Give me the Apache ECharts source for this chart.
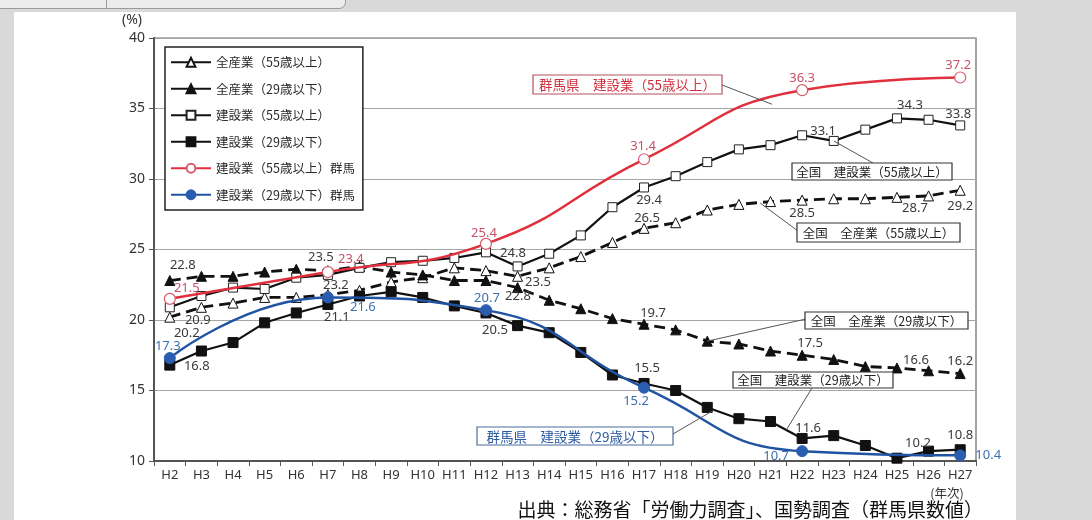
<!DOCTYPE html>
<html><head><meta charset="utf-8">
<script src="https://cdn.jsdelivr.net/npm/echarts@6/dist/echarts.min.js"></script>
<style>
html,body{margin:0;padding:0;background:#d9d9d9;width:1092px;height:520px;overflow:hidden;}
#panel{position:absolute;left:14px;top:12px;width:1002px;height:520px;background:#fff;}
#tab{position:absolute;left:-6px;top:-12px;width:350px;height:19px;background:#ececec;border:1.5px solid #9a9a9a;border-radius:7px;}
#tabdiv{position:absolute;left:106px;top:0;width:1px;height:8px;background:#9a9a9a;}
#chart{position:absolute;left:0;top:0;width:1092px;height:520px;}
</style></head>
<body>
<div id="panel"></div>
<div id="tab"></div><div id="tabdiv"></div>
<div id="chart"></div>
<script>
// ---------- data ----------
const categories = ['H2','H3','H4','H5','H6','H7','H8','H9','H10','H11','H12','H13','H14','H15','H16','H17','H18','H19','H20','H21','H22','H23','H24','H25','H26','H27'];
const allInd55  = [20.2,20.9,21.2,21.6,21.6,21.8,22.1,22.7,23.0,23.7,23.5,23.1,23.7,24.5,25.5,26.5,26.9,27.8,28.2,28.4,28.5,28.6,28.6,28.7,28.8,29.2];
const allInd29  = [22.8,23.1,23.1,23.4,23.6,23.5,23.8,23.4,23.2,22.8,22.8,22.3,21.4,20.8,20.1,19.7,19.3,18.5,18.3,17.8,17.5,17.2,16.7,16.6,16.4,16.2];
const const55   = [20.9,21.7,22.3,22.2,23.0,23.2,23.7,24.1,24.2,24.4,24.8,23.8,24.7,26.0,28.0,29.4,30.2,31.2,32.1,32.4,33.1,32.7,33.5,34.3,34.2,33.8];
const const29   = [16.8,17.8,18.4,19.8,20.5,21.1,21.7,22.0,21.6,21.0,20.5,19.6,19.1,17.7,16.1,15.5,15.0,13.8,13.0,12.8,11.6,11.8,11.1,10.2,10.7,10.8];
const gunmaYears = ['H2','H7','H12','H17','H22','H27'];
const gunma55   = [21.5,23.4,25.4,31.4,36.3,37.2];
const gunma29   = [17.3,21.6,20.7,15.2,10.7,10.4];
const yTicks = [10,15,20,25,30,35,40];
const seriesNames = ['全産業（55歳以上）','全産業（29歳以下）','建設業（55歳以上）','建設業（29歳以下）','建設業（55歳以上）群馬','建設業（29歳以下）群馬'];

// ---------- label placement (style) ----------
const numFont = 'Noto Sans';
const cjk = '"Noto Sans CJK JP"';
const lblA = {0:[17,16],10:[52,12],15:[3,-10],20:[0,13],23:[18,11],25:[0,16]};
const lblB = {0:[13,-15],5:[-7,-13],10:[32,16],15:[9,-11],20:[8,-12],23:[19,-8],25:[0,-12]};
const lblC = {0:[28,13],5:[8,10],10:[27,1],15:[5,13],20:[21,-4],23:[13,-13],25:[-2,-11]};
const lblD = {0:[27,1],5:[9,13],10:[9,17],15:[3,-15],20:[6,-10],23:[21,-15],25:[0,-14]};
const lblE = [[17,-11],[23,-13],[-2,-11],[-1,-13],[0,-12],[-2,-12]];
const lblF = [[-2,-12],[35,10],[1,-12],[-8,14],[-26,5],[28,0]];

function fmt(p){ const v = Array.isArray(p.value)? p.value[1] : p.value; return Number(v).toFixed(1); }
function mkData(vals, map, color){
  return vals.map((v,i)=> map[i] ? {value:v, label:{show:true, position:'inside', offset:map[i], color:color, fontSize:13, fontFamily:numFont, formatter:fmt}} : v);
}
function mkGunma(vals, offs, color){
  return vals.map((v,i)=>({value:[gunmaYears[i], v], label:{show:true, position:'inside', offset:offs[i], color:color, fontSize:13, fontFamily:numFont, formatter:fmt}}));
}

const chart = echarts.init(document.getElementById('chart'), null, {renderer:'canvas'});
const RED = '#e0303e', BLUE = '#2153a3';
const option = {
  backgroundColor: 'transparent',
  animation: false,
  grid: {left:154, right:116, top:38, bottom:59, show:true, borderColor:'#666', borderWidth:1.2},
  legend: {
    orient:'vertical', left:165, top:47,
    data: seriesNames,
    itemWidth:40, itemHeight:11, itemGap:14,
    padding:[9,8,9,5],
    borderColor:'#222', borderWidth:1.5, backgroundColor:'#fff',
    textStyle:{fontFamily:cjk, fontSize:12.5, color:'#2a2a2a'},
    lineStyle:{type:'solid'}
  },
  xAxis: {
    type:'category', data:categories, boundaryGap:true,
    axisLine:{lineStyle:{color:'#555', width:2}},
    axisTick:{show:true, length:5, lineStyle:{color:'#555'}},
    axisLabel:{fontFamily:numFont, fontSize:13, color:'#333', margin:8, interval:0},
    splitLine:{show:false}
  },
  yAxis: {
    type:'value', min:yTicks[0], max:yTicks[yTicks.length-1], interval:5,
    axisLine:{show:true, lineStyle:{color:'#555', width:2}},
    axisTick:{show:true, length:5, lineStyle:{color:'#555'}},
    axisLabel:{fontFamily:numFont, fontSize:14, color:'#333', margin:9},
    splitLine:{lineStyle:{color:'#a5a5a5', width:1}}
  },
  series: [
    {name:seriesNames[0], type:'line', data:mkData(allInd55, lblA, '#3a3a3a'),
     symbol:'triangle', symbolSize:10, lineStyle:{color:'#111', width:2.8, type:[11,6]},
     itemStyle:{color:'#fff', borderColor:'#111', borderWidth:1}, z:3},
    {name:seriesNames[1], type:'line', data:mkData(allInd29, lblB, '#3a3a3a'),
     symbol:'triangle', symbolSize:10, lineStyle:{color:'#111', width:2.8, type:[11,6]},
     itemStyle:{color:'#111', borderColor:'#111', borderWidth:1}, z:3},
    {name:seriesNames[2], type:'line', data:mkData(const55, lblC, '#3a3a3a'),
     symbol:'rect', symbolSize:9, lineStyle:{color:'#111', width:2.2},
     itemStyle:{color:'#fff', borderColor:'#222', borderWidth:1}, z:4},
    {name:seriesNames[3], type:'line', data:mkData(const29, lblD, '#3a3a3a'),
     symbol:'rect', symbolSize:10, lineStyle:{color:'#111', width:2.2},
     itemStyle:{color:'#111', borderColor:'#111', borderWidth:1}, z:4},
    {name:seriesNames[4], type:'line', data:mkGunma(gunma55, lblE, '#c8506a'),
     smooth:0.5, symbol:'circle', symbolSize:11, lineStyle:{color:RED, width:2.5},
     itemStyle:{color:'#fff', borderColor:'#d85a6c', borderWidth:1.2}, z:5},
    {name:seriesNames[5], type:'line', data:mkGunma(gunma29, lblF, '#3d6fb0'),
     smooth:0.5, symbol:'circle', symbolSize:11, lineStyle:{color:BLUE, width:2.5},
     itemStyle:{color:'#2a5cb0', borderColor:'#2a5cb0', borderWidth:1}, z:5}
  ]
};
chart.setOption(option);

// ---------- annotations ----------
function pt(idx, val){
  const i0 = Math.floor(idx), f = idx - i0;
  const a = chart.convertToPixel({gridIndex:0}, [i0, val]);
  if (f === 0) return a;
  const b = chart.convertToPixel({gridIndex:0}, [i0+1, val]);
  return [a[0] + (b[0]-a[0])*f, a[1]];
}
const callouts = [
  {text:'群馬県　建設業（55歳以上）', box:[533,75,189,19], color:'#d0303c', border:'#b8505e', from:[722,85], idx:19.05, val:35.3, size:13.5},
  {text:'全国　建設業（55歳以上）', box:[792,163,160,17], color:'#222', border:'#333', from:[873,163], idx:21, val:32.7, size:12.5},
  {text:'全国　全産業（55歳以上）', box:[797,223,163,19], color:'#222', border:'#333', from:[798,231], idx:18.67, val:28.3, size:12.5},
  {text:'全国　全産業（29歳以下）', box:[805,312,163,17], color:'#222', border:'#333', from:[806,319], idx:17, val:18.5, size:12.5},
  {text:'全国　建設業（29歳以下）', box:[733,372,160,16], color:'#222', border:'#333', from:[812,388], idx:19.5, val:12.2, size:12.5},
  {text:'群馬県　建設業（29歳以下）', box:[477,427,196,18], color:'#2a5aa0', border:'#4a6f9f', from:[673,434], idx:17.2, val:13.6, size:13.5}
];
const g = [];
callouts.forEach(c=>{
  const p = pt(c.idx, c.val);
  g.push({type:'line', shape:{x1:c.from[0], y1:c.from[1], x2:p[0], y2:p[1]}, style:{stroke:'#555', lineWidth:1}, z:20});
  g.push({type:'rect', shape:{x:c.box[0], y:c.box[1], width:c.box[2], height:c.box[3]}, style:{fill:'#fff', stroke:c.border, lineWidth:1.2}, z:21});
  g.push({type:'text', x:c.box[0]+c.box[2]/2, y:c.box[1]+c.box[3]/2+0.5, style:{text:c.text, fill:c.color, font:c.size+'px '+cjk, align:'center', verticalAlign:'middle'}, z:22});
});
g.push({type:'text', x:122, y:13, style:{text:'(%)', fill:'#333', font:'14px '+numFont}, z:22});
g.push({type:'text', x:947, y:493, style:{text:'(年次)', fill:'#333', font:'12.5px '+cjk, align:'center', verticalAlign:'middle'}, z:22});
g.push({type:'text', x:983, y:510, style:{text:'出典：総務省「労働力調査」、国勢調査（群馬県数値）', fill:'#111', font:'19px '+cjk, align:'right', verticalAlign:'middle'}, z:22});
chart.setOption({graphic: g});
</script>
</body></html>
